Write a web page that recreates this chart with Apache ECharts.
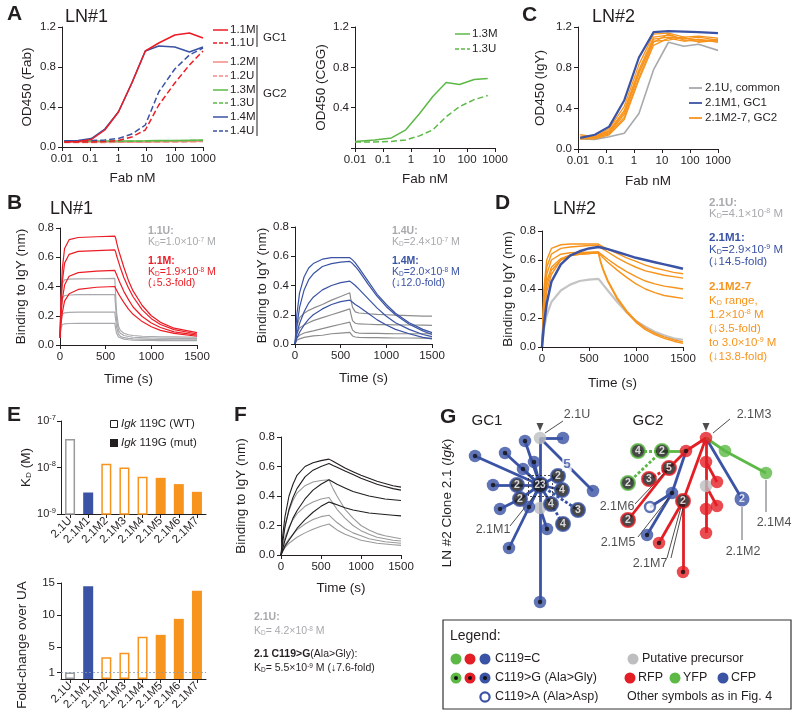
<!DOCTYPE html>
<html><head><meta charset="utf-8">
<script src="https://cdn.jsdelivr.net/npm/echarts@6/dist/echarts.min.js"></script>
<style>html,body{margin:0;padding:0;background:#fff}#c{width:800px;height:721px}</style>
</head><body><div id="c"></div>
<script>
const FONT = "Arial, 'Liberation Sans', Helvetica, sans-serif";
const INK = '#231f20';
const COL = { red: '#ec1c24', pink: '#f58b87', green: '#5cb946', blue: '#3a53a4', gray: '#a7a9ac', orange: '#f7941d', black: '#231f20', tgray: '#bcbec0' };

// ---------- Panel A : LN#1 Fab ELISA ----------
const A_FAB_NM = [0.012, 0.037, 0.11, 0.33, 1, 3, 9, 27, 100, 330, 1000];
const A_NAMES = ['1.1M', '1.1U', '1.2M', '1.2U', '1.3M', '1.3U', '1.4M', '1.4U'];
const A_11M = [0.05, 0.055, 0.075, 0.17, 0.35, 0.64, 0.96, 1.04, 1.12, 1.14, 1.09];
const A_11U = [0.05, 0.05, 0.05, 0.055, 0.065, 0.10, 0.17, 0.42, 0.64, 0.82, 0.96];
const A_12M = [0.05, 0.05, 0.05, 0.05, 0.05, 0.05, 0.05, 0.052, 0.055, 0.055, 0.058];
const A_12U = [0.045, 0.045, 0.045, 0.045, 0.047, 0.047, 0.048, 0.05, 0.05, 0.052, 0.055];
const A_13M = [0.06, 0.06, 0.06, 0.06, 0.06, 0.06, 0.062, 0.065, 0.065, 0.068, 0.07];
const A_13U = [0.055, 0.055, 0.055, 0.055, 0.056, 0.057, 0.058, 0.06, 0.062, 0.064, 0.066];
const A_14M = [0.06, 0.065, 0.085, 0.18, 0.35, 0.64, 0.96, 1.01, 1.00, 0.95, 1.00];
const A_14U = [0.06, 0.06, 0.065, 0.07, 0.085, 0.13, 0.22, 0.55, 0.78, 0.92, 0.99];

// ---------- Panel A (right) : CGG ELISA ----------
const A2_FAB_NM = [0.01, 0.05, 0.2, 0.65, 2, 6, 18, 54, 180, 550];
const A2_NAMES = ['1.3M', '1.3U'];
const A2_13M = [0.065, 0.08, 0.10, 0.18, 0.34, 0.51, 0.65, 0.63, 0.68, 0.69];
const A2_13U = [0.06, 0.06, 0.065, 0.08, 0.12, 0.18, 0.31, 0.41, 0.48, 0.52];

// ---------- Panel C : LN#2 IgY ELISA ----------
const C_FAB_NM = [0.012, 0.04, 0.13, 0.45, 1.5, 5, 17, 60, 200, 1000];
const C_NAMES = ['2.1U, common', '2.1M1, GC1', '2.1M2-7, GC2'];
const C_U = [0.10, 0.095, 0.12, 0.155, 0.35, 0.78, 1.05, 1.01, 1.03, 0.97];
const C_M1 = [0.11, 0.14, 0.22, 0.48, 0.90, 1.15, 1.16, 1.155, 1.15, 1.14];
const C_M27 = [
  [0.14, 0.12, 0.20, 0.42, 0.83, 1.13, 1.14, 1.10, 1.11, 1.09],
  [0.10, 0.12, 0.18, 0.38, 0.78, 1.10, 1.12, 1.08, 1.10, 1.07],
  [0.11, 0.11, 0.16, 0.34, 0.74, 1.08, 1.10, 1.09, 1.07, 1.06],
  [0.12, 0.11, 0.15, 0.31, 0.70, 1.05, 1.13, 1.07, 1.06, 1.08],
  [0.10, 0.10, 0.14, 0.29, 0.68, 1.02, 1.09, 1.06, 1.08, 1.05],
  [0.11, 0.12, 0.17, 0.36, 0.76, 1.06, 1.07, 1.10, 1.05, 1.07]
];

// ---------- Panel B (left) : 1.1U / 1.1M BLI ----------
const B1_TIME = [0, 10, 25, 50, 100, 200, 400, 600, 610, 620, 640, 660, 700, 750, 800, 900, 1000, 1100, 1250, 1500];
const B1_M = [
  [0.05, 0.30, 0.52, 0.66, 0.72, 0.735, 0.74, 0.745, 0.73, 0.70, 0.65, 0.61, 0.53, 0.44, 0.37, 0.27, 0.20, 0.155, 0.115, 0.085],
  [0.05, 0.25, 0.43, 0.56, 0.62, 0.64, 0.645, 0.65, 0.635, 0.61, 0.57, 0.53, 0.46, 0.39, 0.33, 0.24, 0.18, 0.14, 0.105, 0.075],
  [0.05, 0.19, 0.31, 0.41, 0.47, 0.495, 0.505, 0.51, 0.50, 0.48, 0.45, 0.42, 0.365, 0.31, 0.26, 0.195, 0.15, 0.12, 0.09, 0.067],
  [0.05, 0.14, 0.22, 0.30, 0.35, 0.38, 0.395, 0.40, 0.39, 0.375, 0.35, 0.33, 0.29, 0.245, 0.21, 0.16, 0.125, 0.10, 0.08, 0.06]
];
const B1_U = [
  [0.05, 0.30, 0.42, 0.445, 0.45, 0.452, 0.453, 0.455, 0.33, 0.22, 0.13, 0.10, 0.08, 0.07, 0.065, 0.06, 0.058, 0.056, 0.055, 0.053],
  [0.05, 0.23, 0.32, 0.338, 0.342, 0.344, 0.345, 0.345, 0.25, 0.17, 0.10, 0.08, 0.065, 0.058, 0.053, 0.05, 0.048, 0.046, 0.045, 0.043],
  [0.05, 0.16, 0.21, 0.22, 0.223, 0.225, 0.225, 0.225, 0.17, 0.12, 0.075, 0.06, 0.05, 0.045, 0.042, 0.04, 0.038, 0.037, 0.036, 0.035],
  [0.05, 0.11, 0.14, 0.145, 0.147, 0.148, 0.148, 0.148, 0.11, 0.08, 0.055, 0.045, 0.04, 0.036, 0.034, 0.032, 0.031, 0.03, 0.03, 0.03]
];

// ---------- Panel B (right) : 1.4U / 1.4M BLI ----------
const B2_TIME = [0, 20, 50, 100, 150, 200, 300, 400, 500, 600, 610, 630, 660, 700, 800, 900, 1000, 1100, 1250, 1400, 1500];
const B2_M = [
  [0, 0.20, 0.35, 0.46, 0.52, 0.55, 0.58, 0.59, 0.59, 0.59, 0.585, 0.575, 0.555, 0.52, 0.43, 0.34, 0.27, 0.21, 0.145, 0.10, 0.078],
  [0, 0.12, 0.25, 0.37, 0.44, 0.48, 0.53, 0.55, 0.56, 0.565, 0.56, 0.55, 0.53, 0.50, 0.41, 0.325, 0.255, 0.20, 0.135, 0.09, 0.065],
  [0, 0.07, 0.14, 0.22, 0.28, 0.32, 0.37, 0.40, 0.42, 0.43, 0.425, 0.415, 0.40, 0.375, 0.31, 0.245, 0.19, 0.145, 0.10, 0.065, 0.05],
  [0, 0.04, 0.08, 0.13, 0.17, 0.20, 0.24, 0.27, 0.29, 0.30, 0.295, 0.285, 0.27, 0.255, 0.21, 0.165, 0.13, 0.10, 0.07, 0.045, 0.035]
];
const B2_U = [
  [0, 0.12, 0.18, 0.21, 0.23, 0.245, 0.27, 0.30, 0.325, 0.35, 0.31, 0.25, 0.22, 0.212, 0.207, 0.203, 0.20, 0.197, 0.194, 0.191, 0.19],
  [0, 0.07, 0.11, 0.13, 0.145, 0.16, 0.18, 0.20, 0.22, 0.24, 0.21, 0.16, 0.142, 0.137, 0.135, 0.133, 0.132, 0.131, 0.13, 0.129, 0.128],
  [0, 0.04, 0.06, 0.075, 0.083, 0.09, 0.105, 0.12, 0.135, 0.15, 0.13, 0.095, 0.08, 0.075, 0.073, 0.072, 0.071, 0.07, 0.07, 0.07, 0.07],
  [0, 0.025, 0.035, 0.045, 0.05, 0.055, 0.06, 0.07, 0.075, 0.08, 0.07, 0.055, 0.048, 0.045, 0.044, 0.043, 0.042, 0.041, 0.041, 0.04, 0.04]
];

// ---------- Panel D : LN#2 BLI ----------
const D_TIME = [0, 20, 50, 100, 200, 300, 400, 500, 600, 620, 650, 700, 800, 900, 1000, 1100, 1200, 1300, 1400, 1500];
const D_U = [0, 0.12, 0.22, 0.31, 0.39, 0.43, 0.455, 0.465, 0.47, 0.455, 0.43, 0.39, 0.31, 0.24, 0.18, 0.14, 0.105, 0.08, 0.06, 0.05];
const D_M1 = [0, 0.15, 0.30, 0.45, 0.57, 0.63, 0.66, 0.68, 0.69, 0.688, 0.683, 0.675, 0.655, 0.635, 0.615, 0.60, 0.585, 0.57, 0.555, 0.54];
const D_M27 = [
  [0, 0.40, 0.60, 0.68, 0.705, 0.71, 0.71, 0.71, 0.71, 0.70, 0.69, 0.675, 0.645, 0.615, 0.59, 0.565, 0.545, 0.53, 0.515, 0.505],
  [0, 0.35, 0.55, 0.64, 0.68, 0.69, 0.695, 0.70, 0.70, 0.69, 0.675, 0.655, 0.615, 0.58, 0.55, 0.525, 0.51, 0.495, 0.485, 0.475],
  [0, 0.30, 0.50, 0.60, 0.64, 0.65, 0.652, 0.654, 0.655, 0.645, 0.63, 0.605, 0.56, 0.52, 0.485, 0.455, 0.435, 0.42, 0.41, 0.40],
  [0, 0.20, 0.38, 0.50, 0.60, 0.63, 0.64, 0.645, 0.65, 0.635, 0.615, 0.585, 0.53, 0.48, 0.435, 0.40, 0.375, 0.355, 0.345, 0.335],
  [0, 0.30, 0.45, 0.55, 0.61, 0.635, 0.645, 0.65, 0.655, 0.60, 0.54, 0.46, 0.34, 0.25, 0.18, 0.13, 0.095, 0.07, 0.05, 0.035],
  [0, 0.25, 0.42, 0.53, 0.60, 0.63, 0.64, 0.645, 0.65, 0.59, 0.53, 0.45, 0.33, 0.24, 0.17, 0.12, 0.085, 0.06, 0.04, 0.025]
];

// ---------- Panel E : KD and fold change ----------
const E_CLONES = ['2.1U', '2.1M1', '2.1M2', '2.1M3', '2.1M4', '2.1M5', '2.1M6', '2.1M7'];
const E_KD = [4.1e-8, 2.9e-9, 1.2e-8, 1.0e-8, 6.3e-9, 6.0e-9, 4.4e-9, 3.0e-9];
const E_FOLD = [1, 14.5, 3.4, 4.1, 6.6, 6.9, 9.4, 13.8];
const E_GROUP = ['common', 'GC1', 'GC2', 'GC2', 'GC2', 'GC2', 'GC2', 'GC2'];
const E_IGK119 = ['C', 'G', 'C', 'C', 'C', 'G', 'G', 'G'];

// ---------- Panel F : C119>G BLI ----------
const F_TIME = [0, 25, 50, 100, 150, 200, 300, 400, 500, 600, 650, 700, 800, 900, 1000, 1100, 1200, 1300, 1400, 1500];
const F_MUT = [
  [0, 0.15, 0.26, 0.40, 0.48, 0.54, 0.60, 0.625, 0.64, 0.65, 0.635, 0.62, 0.59, 0.565, 0.54, 0.52, 0.50, 0.485, 0.47, 0.46],
  [0, 0.10, 0.19, 0.31, 0.39, 0.45, 0.53, 0.575, 0.60, 0.62, 0.607, 0.595, 0.57, 0.545, 0.52, 0.50, 0.48, 0.465, 0.45, 0.44],
  [0, 0.05, 0.10, 0.18, 0.25, 0.30, 0.38, 0.44, 0.48, 0.51, 0.495, 0.48, 0.455, 0.43, 0.415, 0.40, 0.39, 0.38, 0.375, 0.37],
  [0, 0.03, 0.06, 0.10, 0.14, 0.18, 0.24, 0.29, 0.33, 0.36, 0.35, 0.34, 0.32, 0.305, 0.295, 0.285, 0.28, 0.275, 0.27, 0.265]
];
const F_U = [
  [0, 0.12, 0.20, 0.30, 0.37, 0.42, 0.47, 0.495, 0.505, 0.51, 0.45, 0.40, 0.31, 0.25, 0.20, 0.17, 0.145, 0.13, 0.12, 0.11],
  [0, 0.07, 0.12, 0.19, 0.24, 0.28, 0.33, 0.36, 0.38, 0.39, 0.35, 0.31, 0.25, 0.20, 0.165, 0.14, 0.12, 0.11, 0.10, 0.095],
  [0, 0.04, 0.07, 0.11, 0.14, 0.17, 0.21, 0.24, 0.26, 0.27, 0.245, 0.22, 0.18, 0.15, 0.13, 0.11, 0.10, 0.09, 0.085, 0.08],
  [0, 0.03, 0.05, 0.08, 0.10, 0.12, 0.15, 0.175, 0.195, 0.21, 0.19, 0.17, 0.14, 0.12, 0.10, 0.09, 0.08, 0.075, 0.07, 0.065]
];

// ---------- Panel G : lineage trees (tree-space coordinates) ----------
// [id, x, y, colour, kind, count]
const TREE_NODES = [
  ['U', 100, 38, 'gray', 'plain'], ['a', 123, 38, 'blue', 'plain'], ['c23', 100, 85, 'blue', 'num', '23'],
  ['gM', 100, 108, 'gray', 'plain'], ['bot', 100, 202, 'blue', 'dot'], ['n5', 153, 91, 'blue', 'plain'],
  ['n2a', 118, 76, 'blue', 'num', '2'], ['n4a', 122, 90, 'blue', 'num', '4'], ['n2b', 77, 85, 'blue', 'num', '2'],
  ['n2c', 80, 99, 'blue', 'num', '2'], ['n4b', 111, 104, 'blue', 'num', '4'], ['n3', 138, 110, 'blue', 'num', '3'],
  ['n4c', 123, 124, 'blue', 'num', '4'],
  ['L1', 35, 56, 'blue', 'dot'], ['L2', 65, 53, 'blue', 'dot'], ['L3', 85, 41, 'blue', 'dot'], ['L4', 83, 69, 'blue', 'dot'],
  ['L5', 94, 62, 'blue', 'dot'], ['L6', 53, 85, 'blue', 'dot'], ['L7', 60, 109, 'blue', 'dot'], ['L8', 89, 107, 'blue', 'dot'],
  ['L9', 107, 129, 'blue', 'dot'], ['L10', 69, 148, 'blue', 'dot'],
  ['M3', 266, 38, 'red', 'plain'], ['R1', 246, 51, 'red', 'dot'], ['G2', 222, 51, 'green', 'num', '2'],
  ['G4', 198, 51, 'green', 'num', '4'], ['G2b', 188, 83, 'green', 'num', '2'], ['R5', 229, 68, 'red', 'num', '5'],
  ['R3', 209, 79, 'red', 'num', '3'], ['R2a', 188, 120, 'red', 'num', '2'], ['B1', 232, 93, 'blue', 'dot'],
  ['Bo', 210, 107, 'blue', 'ring'], ['B2', 207, 135, 'blue', 'dot'], ['R2b', 243, 101, 'red', 'num', '2'],
  ['R6', 219, 143, 'red', 'dot'], ['R7', 243, 172, 'red', 'dot'], ['R8', 266, 62, 'red', 'plain'],
  ['Gy', 266, 86, 'gray', 'plain'], ['R9', 277, 82, 'red', 'plain'], ['R10', 266, 109, 'red', 'plain'],
  ['R11', 277, 106, 'red', 'plain'], ['R12', 266, 133, 'red', 'plain'], ['Bn', 302, 99, 'blue', 'numFill', '2'],
  ['Gn1', 285, 51, 'green', 'plain'], ['Gn2', 326, 73, 'green', 'plain']
];
// [from, to, colour, lineType]
const TREE_EDGES = [
  ['U', 'a', 'blue', 'solid'], ['U', 'c23', 'blue', 'solid'], ['c23', 'gM', 'blue', 'solid'], ['gM', 'bot', 'blue', 'solid'],
  ['U', 'n5', 'blue', 'solid'], ['c23', 'n2a', 'blue', 'solid'], ['c23', 'n4a', 'blue', 'solid'], ['c23', 'n2b', 'blue', 'solid'],
  ['n2b', 'L6', 'blue', 'solid'], ['c23', 'n2c', 'blue', 'solid'], ['n2c', 'L7', 'blue', 'solid'], ['c23', 'n4b', 'blue', 'solid'],
  ['c23', 'n3', 'blue', 'dashed'], ['n4b', 'n4c', 'blue', 'dashed'], ['c23', 'L1', 'blue', 'solid'], ['c23', 'L2', 'blue', 'solid'],
  ['c23', 'L3', 'blue', 'solid'], ['c23', 'L4', 'blue', 'solid'], ['c23', 'L5', 'blue', 'solid'], ['c23', 'L8', 'blue', 'solid'],
  ['gM', 'L9', 'blue', 'solid'], ['c23', 'L10', 'blue', 'solid'],
  ['M3', 'R1', 'red', 'solid'], ['R1', 'G2', 'green', 'solid'], ['G2', 'G4', 'green', 'dashed'], ['G2', 'G2b', 'green', 'dashed'],
  ['R1', 'R5', 'red', 'solid'], ['R5', 'R2a', 'red', 'solid'], ['R5', 'R3', 'red', 'dashed'], ['R1', 'B1', 'blue', 'solid'],
  ['B1', 'Bo', 'blue', 'solid'], ['B1', 'B2', 'blue', 'solid'], ['M3', 'R2b', 'red', 'solid'], ['R2b', 'R6', 'red', 'solid'],
  ['R2b', 'R7', 'red', 'solid'], ['M3', 'R8', 'red', 'solid'], ['R8', 'Gy', 'red', 'solid'], ['Gy', 'R10', 'red', 'solid'],
  ['R10', 'R12', 'red', 'solid'], ['R8', 'R9', 'red', 'solid'], ['Gy', 'R11', 'red', 'solid'], ['M3', 'Bn', 'blue', 'solid'],
  ['M3', 'Gn1', 'green', 'solid'], ['Gn1', 'Gn2', 'green', 'solid']
];
// [text, x, y, colour]
const TREE_LABELS = [
  ['2.1U', 137, 15, 'black'], ['2.1M3', 314, 15, 'black'], ['2.1M1', 53, 130, 'black'], ['2.1M6', 177, 107, 'black'],
  ['2.1M5', 178, 143, 'black'], ['2.1M7', 210, 164, 'black'], ['2.1M2', 303, 152, 'black'], ['2.1M4', 334, 123, 'black'],
  ['5', 127, 64, 'blue']
];
// leader lines / box: [[x1,y1],[x2,y2], colour, type]
const TREE_LEADERS = [
  [[105, 33], [123, 21], 'black', 'solid'], [[273, 33], [290, 19], 'black', 'solid'], [[70, 126], [94, 96], 'black', 'solid'],
  [[195, 104], [227, 70], 'black', 'solid'], [[198, 137], [230, 96], 'black', 'solid'], [[227, 158], [241, 107], 'black', 'solid'],
  [[231, 158], [243, 108], 'black', 'solid'],
  [[302, 107], [302, 140], 'gray', 'solid'], [[326, 80], [326, 112], 'gray', 'solid'],
  [[88, 75], [112, 75], 'black', 'dashed'], [[112, 75], [112, 96], 'black', 'dashed'], [[112, 96], [88, 96], 'black', 'dashed'], [[88, 96], [88, 75], 'black', 'dashed']
];
const TREE_ROOTS = ['U', 'M3'];

// ================= build =================
const zip = (xs, ys) => xs.map((x, i) => [x, ys[i]]);
const fmt1 = v => v.toFixed(1);
const logFmt = v => String(Number(v.toPrecision(3)));
const plainFmt = v => String(v);

function axis(gi, extra) {
  return Object.assign({
    gridIndex: gi,
    axisLine: { show: true, onZero: false, lineStyle: { color: INK, width: 1 } },
    axisTick: { show: true, length: 4, lineStyle: { color: INK, width: 1 } },
    axisLabel: { color: INK, fontSize: 11.5, fontFamily: FONT, margin: 6 },
    splitLine: { show: false },
    nameTextStyle: { color: INK, fontSize: 13.5, fontFamily: FONT },
    nameLocation: 'middle'
  }, extra);
}
function lineS(gi, data, color, o = {}) {
  return {
    type: 'line', xAxisIndex: gi, yAxisIndex: gi, data, showSymbol: false, symbol: 'none',
    lineStyle: { color, width: o.width || 1.3, type: o.type || 'solid' }, z: o.z || 2, silent: true
  };
}

const grids = [
  { left: 62, top: 27, width: 141, height: 120 },   // 0 A left
  { left: 355, top: 27, width: 140, height: 121 },  // 1 A right
  { left: 578, top: 27, width: 140, height: 122 },  // 2 C
  { left: 60, top: 228, width: 137, height: 117 },  // 3 B left
  { left: 295, top: 227, width: 137, height: 117 }, // 4 B right
  { left: 542, top: 231, width: 141, height: 116 }, // 5 D
  { left: 61, top: 421, width: 145, height: 93 },   // 6 E top
  { left: 61, top: 583, width: 145, height: 96 },   // 7 E bottom
  { left: 281, top: 437, width: 120, height: 118 }, // 8 F
  { left: 440, top: 400, width: 360, height: 210 }  // 9 tree
];

const logX = gi => axis(gi, { type: 'log', logBase: 10, min: 0.01, max: 1000, name: 'Fab nM', nameGap: 24, axisLabel: { color: INK, fontSize: 11.5, fontFamily: FONT, margin: 6, formatter: logFmt } });
const timeX = (gi, gap) => axis(gi, { type: 'value', min: 0, max: 1500, interval: 500, name: 'Time (s)', nameGap: gap, axisLabel: { color: INK, fontSize: 11.5, fontFamily: FONT, margin: 6, formatter: plainFmt } });
const bliY = (gi, gap) => axis(gi, { type: 'value', min: 0, max: 0.8, interval: 0.2, name: 'Binding to IgY (nm)', nameGap: gap, axisLabel: { color: INK, fontSize: 11.5, fontFamily: FONT, margin: 6, formatter: fmt1 } });
const catX = gi => axis(gi, { type: 'category', data: E_CLONES, axisTick: { show: true, length: 4, alignWithLabel: true, lineStyle: { color: INK } }, axisLabel: { color: INK, fontSize: 11.5, fontFamily: FONT, rotate: 45, margin: 5, interval: 0 } });

const xAxes = [
  logX(0), logX(1), Object.assign(logX(2), { nameGap: 25 }),
  timeX(3, 27), timeX(4, 27), timeX(5, 29),
  catX(6), catX(7),
  timeX(8, 26),
  { gridIndex: 9, type: 'value', min: 0, max: 360, show: false }
];
const yAxes = [
  axis(0, { type: 'value', min: 0, max: 1.2, interval: 0.4, name: 'OD450 (Fab)', nameGap: 28, axisLabel: { color: INK, fontSize: 11.5, fontFamily: FONT, margin: 6, formatter: fmt1 } }),
  axis(1, { type: 'value', min: 0, max: 1.2, interval: 0.4, name: 'OD450 (CGG)', nameGap: 27, axisLabel: { color: INK, fontSize: 11.5, fontFamily: FONT, margin: 6, formatter: v => v === 0 ? '' : fmt1(v) } }),
  axis(2, { type: 'value', min: 0, max: 1.2, interval: 0.4, name: 'OD450 (IgY)', nameGap: 31, axisLabel: { color: INK, fontSize: 11.5, fontFamily: FONT, margin: 6, formatter: fmt1 } }),
  bliY(3, 32), bliY(4, 26), bliY(5, 27),
  axis(6, { type: 'log', logBase: 10, min: 1e-9, max: 1e-7, name: 'K{d|D} (M)', nameGap: 28,
    nameTextStyle: { color: INK, fontSize: 13.5, fontFamily: FONT, rich: { d: { fontSize: 8, fontFamily: FONT, color: INK, verticalAlign: 'bottom', padding: [6, 0, 0, 0] } } },
    axisLabel: { color: INK, fontSize: 11, fontFamily: FONT, margin: 5, formatter: v => '10{s|' + Math.round(Math.log10(v)) + '}', rich: { s: { fontSize: 7.5, fontFamily: FONT, color: INK, padding: [0, 0, 7, 0] } } } }),
  axis(7, { type: 'value', min: 0, max: 15, interval: 1,
    axisTick: { show: true, length: 4, lineStyle: { color: INK }, customValues: [1, 5, 10, 15] },
    axisLabel: { color: INK, fontSize: 11.5, fontFamily: FONT, margin: 6, customValues: [1, 5, 10, 15] } }),
  bliY(8, 33),
  { gridIndex: 9, type: 'value', min: 0, max: 210, inverse: true, show: false }
];

const series = [];
const aSets = [
  ['1.2M', A_12M, COL.pink, 'solid'], ['1.2U', A_12U, COL.pink, 'dashed'],
  ['1.3M', A_13M, COL.green, 'solid'], ['1.3U', A_13U, COL.green, 'dashed'],
  ['1.4U', A_14U, COL.blue, 'dashed'], ['1.1U', A_11U, COL.red, 'dashed'],
  ['1.4M', A_14M, COL.blue, 'solid'], ['1.1M', A_11M, COL.red, 'solid']
];
aSets.forEach(s => series.push(Object.assign(lineS(0, zip(A_FAB_NM, s[1]), s[2], { type: s[3], width: 1.5 }), { name: s[0] })));
series.push(lineS(1, zip(A2_FAB_NM, A2_13M), COL.green, { width: 1.5 }));
series.push(lineS(1, zip(A2_FAB_NM, A2_13U), COL.green, { width: 1.5, type: 'dashed' }));
series.push(lineS(2, zip(C_FAB_NM, C_U), COL.gray, { width: 1.6 }));
C_M27.forEach(v => series.push(lineS(2, zip(C_FAB_NM, v), COL.orange, { width: 1.3 })));
series.push(lineS(2, zip(C_FAB_NM, C_M1), COL.blue, { width: 2.2, z: 3 }));
B1_U.forEach(v => series.push(lineS(3, zip(B1_TIME, v), COL.gray, { width: 1.2 })));
B1_M.forEach(v => series.push(lineS(3, zip(B1_TIME, v), COL.red, { width: 1.2, z: 3 })));
B2_U.forEach(v => series.push(lineS(4, zip(B2_TIME, v), '#8d8d8d', { width: 1.2 })));
B2_M.forEach(v => series.push(lineS(4, zip(B2_TIME, v), COL.blue, { width: 1.2, z: 3 })));
series.push(lineS(5, zip(D_TIME, D_U), '#c4c4c4', { width: 2.2 }));
D_M27.forEach(v => series.push(lineS(5, zip(D_TIME, v), COL.orange, { width: 1.4 })));
series.push(lineS(5, zip(D_TIME, D_M1), COL.blue, { width: 2.5, z: 3 }));
const eColor = i => E_GROUP[i] === 'common' ? '#9a9a9a' : (E_GROUP[i] === 'GC1' ? COL.blue : COL.orange);
series.push({
  type: 'custom', xAxisIndex: 6, yAxisIndex: 6, silent: true,
  data: E_CLONES.map((c, i) => [i, E_KD[i]]), encode: { x: 0, y: 1 },
  renderItem: (params, api) => {
    const i = params.dataIndex;
    const top = api.coord([api.value(0), api.value(1)]);
    const base = api.coord([api.value(0), 1e-9]);
    const w = 10, filled = E_IGK119[i] === 'G';
    return { type: 'rect', shape: { x: top[0] - w / 2 + (filled ? 0 : 0.75), y: top[1] + (filled ? 0 : 0.75), width: w - (filled ? 0 : 1.5), height: base[1] - top[1] - (filled ? 0 : 0.75) },
      style: { fill: filled ? eColor(i) : '#fff', stroke: eColor(i), lineWidth: filled ? 0 : 1.5 } };
  }
});
series.push({
  type: 'bar', xAxisIndex: 7, yAxisIndex: 7, barWidth: 10, silent: true,
  data: E_FOLD.map((v, i) => ({ value: v, itemStyle: { color: E_IGK119[i] === 'G' ? eColor(i) : '#fff', borderColor: eColor(i), borderWidth: E_IGK119[i] === 'G' ? 0 : 1.5 } })),
  markLine: { silent: true, symbol: 'none', label: { show: false }, lineStyle: { color: '#8a9bb5', type: [2, 2], width: 0.8 }, data: [{ yAxis: 1 }] }
});
F_U.forEach(v => series.push(lineS(8, zip(F_TIME, v), '#9a9a9a', { width: 1.1 })));
F_MUT.forEach(v => series.push(lineS(8, zip(F_TIME, v), '#231f20', { width: 1.1, z: 3 })));

const TC = { red: '#e31e24', green: '#5cb946', blue: '#3a53a4', gray: '#bcbec0', black: '#231f20' };
const nodeById = {};
TREE_NODES.forEach(n => { nodeById[n[0]] = n; });
series.push({
  type: 'lines', coordinateSystem: 'cartesian2d', xAxisIndex: 9, yAxisIndex: 9, silent: true, z: 2,
  data: TREE_EDGES.map(e => ({ coords: [[nodeById[e[0]][1], nodeById[e[0]][2]], [nodeById[e[1]][1], nodeById[e[1]][2]]],
    lineStyle: { color: TC[e[2]], width: 2.8, type: e[3] === 'dashed' ? [3, 2] : 'solid', opacity: 1 } }))
});
series.push({
  type: 'lines', coordinateSystem: 'cartesian2d', xAxisIndex: 9, yAxisIndex: 9, silent: true, z: 4,
  data: TREE_LEADERS.map(l => ({ coords: [l[0], l[1]], lineStyle: { color: l[2] === 'gray' ? '#9d9fa2' : '#231f20', width: l[2] === 'gray' ? 1.6 : 0.8, type: l[3] === 'dashed' ? [2, 2] : 'solid', opacity: 1 } }))
});
series.push({
  type: 'scatter', xAxisIndex: 9, yAxisIndex: 9, silent: true, z: 5,
  data: TREE_NODES.map(n => {
    const c = TC[n[3]], k = n[4];
    const item = { value: [n[1], n[2]], symbolSize: 12.5, itemStyle: { color: c } };
    if (k === 'num') { item.symbolSize = n[5].length > 1 ? 16 : 14; item.itemStyle = { color: '#1a1a1a', borderColor: c, borderWidth: 2 }; }
    if (k === 'numFill') { item.symbolSize = 15; item.itemStyle = { color: c, borderColor: '#fff', borderWidth: 0 }; }
    if (k === 'ring') { item.symbolSize = 10; item.itemStyle = { color: '#fff', borderColor: c, borderWidth: 2.4 }; }
    if (k === 'num' || k === 'numFill') item.label = { show: true, position: 'inside', formatter: n[5], color: '#fff', fontWeight: 'bold', fontSize: n[5].length > 1 ? 10 : 10.5, fontFamily: FONT };
    return item;
  })
});
series.push({
  type: 'scatter', xAxisIndex: 9, yAxisIndex: 9, silent: true, z: 6, symbolSize: 4.5,
  itemStyle: { color: '#111' },
  data: TREE_NODES.filter(n => n[4] === 'dot').map(n => [n[1], n[2]])
});
series.push({
  type: 'scatter', xAxisIndex: 9, yAxisIndex: 9, silent: true, z: 6, symbol: 'triangle', symbolRotate: 180, symbolSize: [7, 8],
  itemStyle: { color: '#231f20' },
  data: TREE_ROOTS.map(id => [nodeById[id][1], nodeById[id][2] - 11])
});
series.push({
  type: 'scatter', xAxisIndex: 9, yAxisIndex: 9, silent: true, z: 7, symbolSize: 1, itemStyle: { color: 'rgba(0,0,0,0)' },
  data: TREE_LABELS.map(l => ({ value: [l[1], l[2]], label: { show: true, position: 'inside', formatter: l[0], color: TC[l[3]],
    fontSize: l[3] === 'blue' ? 13.5 : 12.5, fontWeight: l[3] === 'blue' ? 'bold' : 'normal', fontFamily: FONT,
    backgroundColor: l[3] === 'blue' ? '#fff' : 'transparent', padding: l[3] === 'blue' ? [0, 1] : 0 } }))
});

function T(x, y, text, o = {}) {
  const size = o.size || 12;
  return { type: 'text', x, y, rotation: o.rot || 0, z: 100, silent: true,
    style: { text, fill: o.color || INK, fontSize: size, fontFamily: FONT, fontWeight: o.weight || 'normal', fontStyle: o.style || 'normal',
      align: o.align || 'left', verticalAlign: o.va || 'middle', rich: o.rich } };
}
function rich(color, size) {
  const s = Math.round(size * 0.62 * 10) / 10;
  return {
    d: { fill: color, fontSize: s, fontFamily: FONT, verticalAlign: 'bottom' },
    s: { fill: color, fontSize: s, fontFamily: FONT, verticalAlign: 'top' },
    b: { fill: color, fontSize: size, fontFamily: FONT, fontWeight: 'bold' },
    i: { fill: color, fontSize: size, fontFamily: FONT, fontStyle: 'italic' }
  };
}
const G = [];
[['A', 7, 14], ['B', 7, 203], ['C', 522, 15], ['D', 495, 203], ['E', 7, 415], ['F', 234, 415], ['G', 440, 417]]
  .forEach(p => G.push(T(p[1], p[2], p[0], { size: 21, weight: 'bold' })));
[['LN#1', 65, 17], ['LN#1', 50, 209], ['LN#2', 592, 17], ['LN#2', 553, 209]]
  .forEach(p => G.push(T(p[1], p[2], p[0], { size: 18 })));

const aLegRows = [['1.1M', COL.red, 'solid', 30], ['1.1U', COL.red, 'dashed', 43], ['1.2M', COL.pink, 'solid', 62], ['1.2U', COL.pink, 'dashed', 76],
  ['1.3M', COL.green, 'solid', 90], ['1.3U', COL.green, 'dashed', 103], ['1.4M', COL.blue, 'solid', 117], ['1.4U', COL.blue, 'dashed', 131]];
aLegRows.forEach(r => {
  G.push({ type: 'line', silent: true, z: 100, shape: { x1: 213, y1: r[3], x2: 228, y2: r[3] }, style: { stroke: r[1], lineWidth: 1.5, lineDash: r[2] === 'dashed' ? [4, 2] : null } });
  G.push(T(230, r[3], r[0], { size: 11.5 }));
});
G.push({ type: 'line', silent: true, z: 100, shape: { x1: 257, y1: 25, x2: 257, y2: 47 }, style: { stroke: INK, lineWidth: 1 } });
G.push({ type: 'line', silent: true, z: 100, shape: { x1: 257, y1: 57, x2: 257, y2: 136 }, style: { stroke: INK, lineWidth: 1 } });
G.push(T(263, 38, 'GC1', { size: 11.5 }));
G.push(T(263, 94, 'GC2', { size: 11.5 }));
[['1.3M', 'solid', 34], ['1.3U', 'dashed', 49]].forEach(r => {
  G.push({ type: 'line', silent: true, z: 100, shape: { x1: 455, y1: r[2], x2: 470, y2: r[2] }, style: { stroke: COL.green, lineWidth: 1.5, lineDash: r[1] === 'dashed' ? [4, 2] : null } });
  G.push(T(472, r[2], r[0], { size: 11.5 }));
});
[[C_NAMES[0], COL.gray, 88], [C_NAMES[1], COL.blue, 103], [C_NAMES[2], COL.orange, 118]].forEach(r => {
  G.push({ type: 'line', silent: true, z: 100, shape: { x1: 689, y1: r[2], x2: 702, y2: r[2] }, style: { stroke: r[1], lineWidth: 1.8 } });
  G.push(T(705, r[2], r[0], { size: 11.5 }));
});

const annB = (x, ys, uName, uKd, mName, mKd, fold, mCol) => {
  G.push(T(x, ys[0], uName, { size: 10.5, weight: 'bold', color: COL.gray }));
  G.push(T(x, ys[1], uKd, { size: 10.5, color: COL.gray, rich: rich(COL.gray, 10.5) }));
  G.push(T(x, ys[2], mName, { size: 10.5, weight: 'bold', color: mCol }));
  G.push(T(x, ys[3], mKd, { size: 10.5, color: mCol, rich: rich(mCol, 10.5) }));
  G.push(T(x, ys[4], fold, { size: 10.5, color: mCol }));
};
annB(148, [231, 242, 261, 272, 283], '1.1U:', 'K{d|D}=1.0×10{s|-7} M', '1.1M:', 'K{d|D}=1.9×10{s|-8} M', '(↓5.3-fold)', COL.red);
annB(392, [231, 242, 261, 272, 283], '1.4U:', 'K{d|D}=2.4×10{s|-7} M', '1.4M:', 'K{d|D}=2.0×10{s|-8} M', '(↓12.0-fold)', COL.blue);
const dLines = [
  ['2.1U:', COL.gray, true, 203], ['K{d|D}=4.1×10{s|-8} M', COL.gray, false, 214],
  ['2.1M1:', COL.blue, true, 238], ['K{d|D}=2.9×10{s|-9} M', COL.blue, false, 250], ['(↓14.5-fold)', COL.blue, false, 262],
  ['2.1M2-7', COL.orange, true, 287], ['K{d|D} range,', COL.orange, false, 301], ['1.2×10{s|-8} M', COL.orange, false, 315],
  ['(↓3.5-fold)', COL.orange, false, 329], ['to 3.0×10{s|-9} M', COL.orange, false, 343], ['(↓13.8-fold)', COL.orange, false, 357]
];
dLines.forEach(l => G.push(T(709, l[3], l[0], { size: 11.5, color: l[1], weight: l[2] ? 'bold' : 'normal', rich: rich(l[1], 11.5) })));
G.push(T(254, 617, '2.1U:', { size: 10.5, weight: 'bold', color: COL.gray }));
G.push(T(254, 631, 'K{d|D}= 4.2×10{s|-8} M', { size: 10.5, color: COL.gray, rich: rich(COL.gray, 10.5) }));
G.push(T(254, 654, '{b|2.1 C119>G}(Ala>Gly):', { size: 10.5, color: INK, rich: rich(INK, 10.5) }));
G.push(T(254, 668, 'K{d|D}= 5.5×10{s|-9} M (↓7.6-fold)', { size: 10.5, color: INK, rich: rich(INK, 10.5) }));
G.push({ type: 'rect', silent: true, z: 100, shape: { x: 110.5, y: 420.5, width: 7, height: 7 }, style: { fill: '#fff', stroke: INK, lineWidth: 1 } });
G.push({ type: 'rect', silent: true, z: 100, shape: { x: 110, y: 439, width: 8, height: 8 }, style: { fill: INK } });
G.push(T(121, 424, '{i|Igk} 119C (WT)', { size: 11.5, rich: rich(INK, 11.5) }));
G.push(T(121, 443, '{i|Igk} 119G (mut)', { size: 11.5, rich: rich(INK, 11.5) }));
G.push(T(22, 645, 'Fold-change over UA', { size: 13.5, rot: Math.PI / 2, align: 'center' }));
G.push(T(487, 421, 'GC1', { size: 15, align: 'center' }));
G.push(T(648, 421, 'GC2', { size: 15, align: 'center' }));
G.push(T(447, 503, 'LN #2 Clone 2.1 ({i|Igk})', { size: 13.5, rot: Math.PI / 2, align: 'center', rich: rich(INK, 13.5) }));
G.push({ type: 'rect', silent: true, z: 100, shape: { x: 443, y: 620, width: 348, height: 89 }, style: { fill: 'none', stroke: '#333', lineWidth: 1.2 } });
G.push(T(450, 636, 'Legend:', { size: 14 }));
const circ = (x, y, fill, stroke, lw, r) => G.push({ type: 'circle', silent: true, z: 101, shape: { cx: x, cy: y, r: r || 5.5 }, style: { fill, stroke: stroke || null, lineWidth: lw || 0 } });
[[456, TC.green], [470, TC.red], [485, TC.blue]].forEach(c => { circ(c[0], 659, c[1]); circ(c[0], 678, c[1]); circ(c[0], 678, '#111', null, 0, 2); });
circ(485, 697, '#fff', TC.blue, 2.2, 4.6);
G.push(T(495, 659, 'C119=C', { size: 12.5 }));
G.push(T(495, 678, 'C119>G (Ala>Gly)', { size: 12.5 }));
G.push(T(495, 697, 'C119>A (Ala>Asp)', { size: 12.5 }));
circ(633, 659, TC.gray);
G.push(T(642, 659, 'Putative precursor', { size: 12.5 }));
circ(630, 678, TC.red); G.push(T(638, 678, 'RFP', { size: 12.5 }));
circ(675, 678, TC.green); G.push(T(683, 678, 'YFP', { size: 12.5 }));
circ(723, 678, TC.blue); G.push(T(731, 678, 'CFP', { size: 12.5 }));
G.push(T(627, 697, 'Other symbols as in Fig. 4', { size: 12.5 }));

const chart = echarts.init(document.getElementById('c'), null, { renderer: 'canvas', width: 800, height: 721 });
chart.setOption({
  animation: false,
  backgroundColor: '#fff',
  textStyle: { fontFamily: FONT },
  grid: grids,
  xAxis: xAxes,
  yAxis: yAxes,
  series,
  graphic: G
});
</script></body></html>
